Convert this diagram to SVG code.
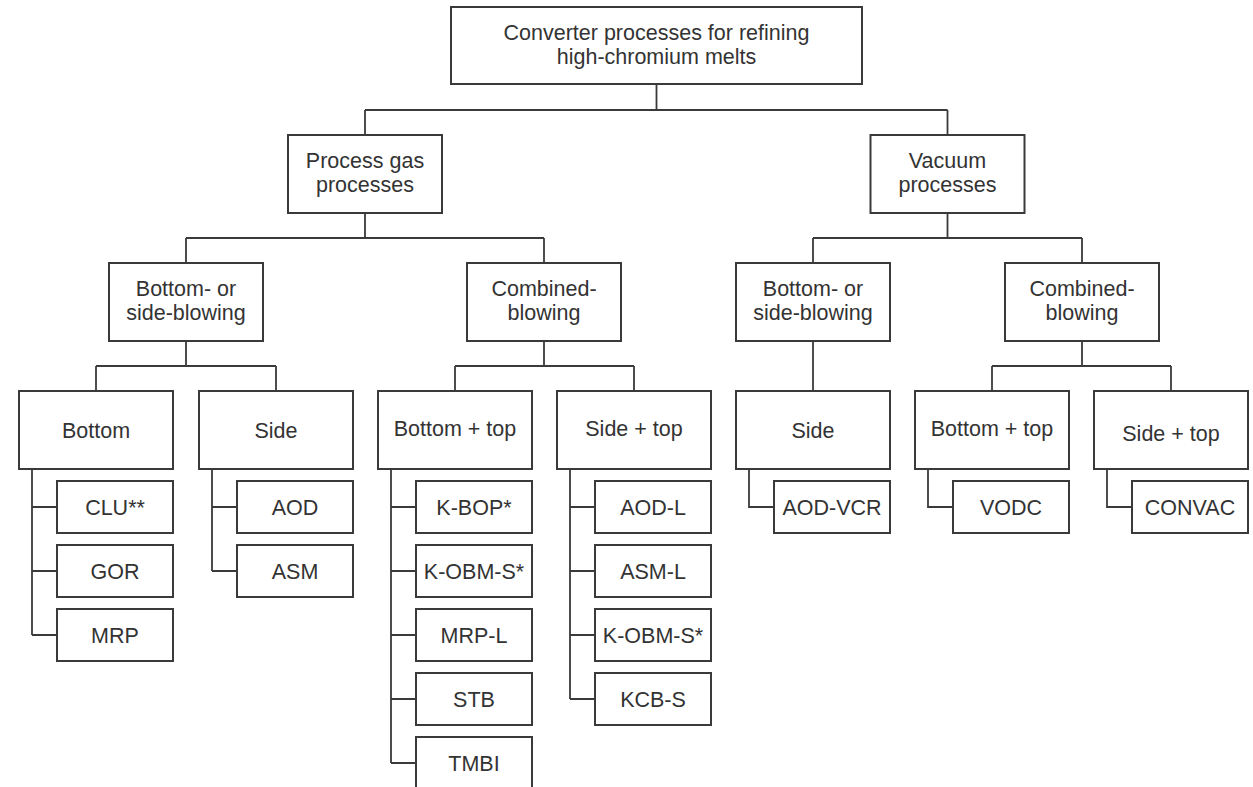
<svg xmlns="http://www.w3.org/2000/svg" width="1253" height="787" viewBox="0 0 1253 787">
<style>
rect{fill:#fff;stroke:#3a3a3a;stroke-width:2}
.c path{fill:none;stroke:#3a3a3a;stroke-width:1.8}
text{font-family:"Liberation Sans",Arial,sans-serif;font-size:21.5px;fill:#333;text-anchor:middle}
</style>
<rect x="0" y="0" width="1253" height="787" style="stroke:none"/>
<g class="c" id="connectors">
<path d="M656.5 84V110M365 110H947.5M365 110V135M947.5 110V135"/>
<path d="M365 213V238M186 238H544M186 238V263M544 238V263"/>
<path d="M947.5 213V238M813 238H1082M813 238V263M1082 238V263"/>
<path d="M186 341V366M96 366H276M96 366V391M276 366V391"/>
<path d="M544 341V366M455 366H634M455 366V391M634 366V391"/>
<path d="M813 341V391"/>
<path d="M1082 341V366M992 366H1171M992 366V391M1171 366V391"/>
<path d="M32 469V635M32 507H57M32 571H57M32 635H57"/>
<path d="M212 469V571M212 507H237M212 571H237"/>
<path d="M391 469V763M391 507H416M391 571H416M391 635H416M391 699H416M391 763H416"/>
<path d="M570 469V699M570 507H595M570 571H595M570 635H595M570 699H595"/>
<path d="M749 469V507H774"/>
<path d="M928 469V507H953"/>
<path d="M1107 469V507H1132"/>
</g>
<g id="root"><rect x="451" y="7" width="411" height="77"/><text x="656.5" y="40">Converter processes for refining</text><text x="656.5" y="64">high-chromium melts</text></g>
<g id="process-gas"><rect x="288" y="135" width="154" height="78"/><text x="365" y="168">Process gas</text><text x="365" y="192">processes</text></g>
<g id="vacuum"><rect x="870.5" y="135" width="154" height="78"/><text x="947.5" y="168">Vacuum</text><text x="947.5" y="192">processes</text></g>
<g id="pg-bottom-side"><rect x="109" y="263" width="154" height="78"/><text x="186" y="296">Bottom- or</text><text x="186" y="320">side-blowing</text></g>
<g id="pg-combined"><rect x="467" y="263" width="154" height="78"/><text x="544" y="296">Combined-</text><text x="544" y="320">blowing</text></g>
<g id="v-bottom-side"><rect x="736" y="263" width="154" height="78"/><text x="813" y="296">Bottom- or</text><text x="813" y="320">side-blowing</text></g>
<g id="v-combined"><rect x="1005" y="263" width="154" height="78"/><text x="1082" y="296">Combined-</text><text x="1082" y="320">blowing</text></g>
<g id="pg-bottom"><rect x="19" y="391" width="154" height="78"/><text x="96" y="437.5">Bottom</text></g>
<g id="pg-side"><rect x="199" y="391" width="154" height="78"/><text x="276" y="437.5">Side</text></g>
<g id="pg-bottom-top"><rect x="378" y="391" width="154" height="78"/><text x="455" y="435.5">Bottom + top</text></g>
<g id="pg-side-top"><rect x="557" y="391" width="154" height="78"/><text x="634" y="435.5">Side + top</text></g>
<g id="v-side"><rect x="736" y="391" width="154" height="78"/><text x="813" y="437.5">Side</text></g>
<g id="v-bottom-top"><rect x="915" y="391" width="154" height="78"/><text x="992" y="435.5">Bottom + top</text></g>
<g id="v-side-top"><rect x="1094" y="391" width="154" height="78"/><text x="1171" y="440.5">Side + top</text></g>
<g id="clu"><rect x="57" y="481" width="116" height="52"/><text x="115" y="514.5">CLU**</text></g>
<g id="gor"><rect x="57" y="545" width="116" height="52"/><text x="115" y="578.5">GOR</text></g>
<g id="mrp"><rect x="57" y="609" width="116" height="52"/><text x="115" y="642.5">MRP</text></g>
<g id="aod"><rect x="237" y="481" width="116" height="52"/><text x="295" y="514.5">AOD</text></g>
<g id="asm"><rect x="237" y="545" width="116" height="52"/><text x="295" y="578.5">ASM</text></g>
<g id="k-bop"><rect x="416" y="481" width="116" height="52"/><text x="474" y="514.5">K-BOP*</text></g>
<g id="k-obm-s-1"><rect x="416" y="545" width="116" height="52"/><text x="474" y="578.5">K-OBM-S*</text></g>
<g id="mrp-l"><rect x="416" y="609" width="116" height="52"/><text x="474" y="642.5">MRP-L</text></g>
<g id="stb"><rect x="416" y="673" width="116" height="52"/><text x="474" y="706.5">STB</text></g>
<g id="tmbi"><rect x="416" y="737" width="116" height="56"/><text x="474" y="770.5">TMBI</text></g>
<g id="aod-l"><rect x="595" y="481" width="116" height="52"/><text x="653" y="514.5">AOD-L</text></g>
<g id="asm-l"><rect x="595" y="545" width="116" height="52"/><text x="653" y="578.5">ASM-L</text></g>
<g id="k-obm-s-2"><rect x="595" y="609" width="116" height="52"/><text x="653" y="642.5">K-OBM-S*</text></g>
<g id="kcb-s"><rect x="595" y="673" width="116" height="52"/><text x="653" y="706.5">KCB-S</text></g>
<g id="aod-vcr"><rect x="774" y="481" width="116" height="52"/><text x="832" y="514.5">AOD-VCR</text></g>
<g id="vodc"><rect x="953" y="481" width="116" height="52"/><text x="1011" y="514.5">VODC</text></g>
<g id="convac"><rect x="1132" y="481" width="116" height="52"/><text x="1190" y="514.5">CONVAC</text></g>
</svg>
